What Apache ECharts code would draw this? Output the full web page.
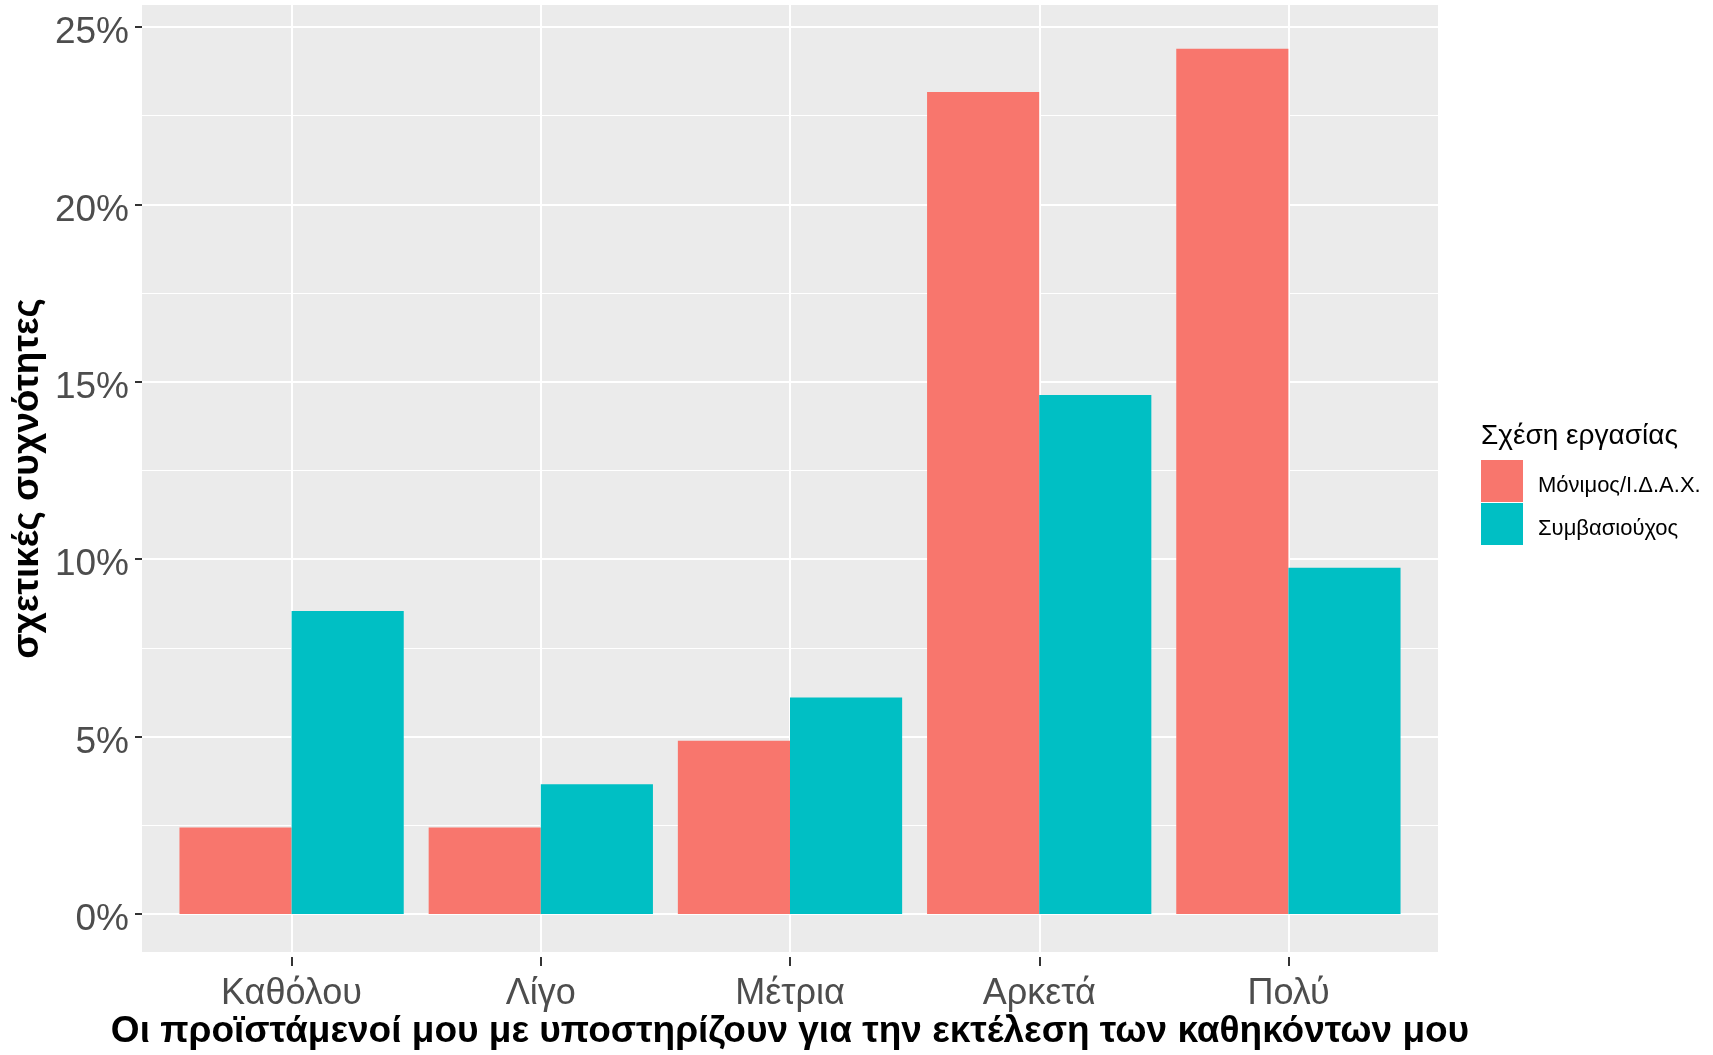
<!DOCTYPE html>
<html>
<head>
<meta charset="utf-8">
<script src="https://cdn.jsdelivr.net/npm/echarts@6/dist/echarts.min.js"></script>
<style>
html,body{margin:0;padding:0;background:#fff;}
#main{width:1713px;height:1055px;}
</style>
</head>
<body>
<div id="main"></div>
<script>
const categories = ['Καθόλου', 'Λίγο', 'Μέτρια', 'Αρκετά', 'Πολύ'];
const seriesNames = ['Μόνιμος/Ι.Δ.Α.Χ.', 'Συμβασιούχος'];
const permanentValues = [2.44, 2.44, 4.88, 23.17, 24.39];
const contractValues = [8.54, 3.66, 6.10, 14.63, 9.76];
const yMin = 0, yMax = 25, yStep = 5;
const xTitle = 'Οι προϊστάμενοί μου με υποστηρίζουν για την εκτέλεση των καθηκόντων μου';
const yTitle = 'σχετικές συχνότητες';
const legendTitle = 'Σχέση εργασίας';

const SANS = "'Liberation Sans',Arial,sans-serif";

const chart = echarts.init(document.getElementById('main'));
const hidden = {axisLine:{show:false}, axisTick:{show:false}, axisLabel:{show:false}, splitLine:{show:false}};

chart.setOption({
  animation: false,
  backgroundColor: '#ffffff',
  title: {
    text: legendTitle, left: 1481, top: 422, padding: 0,
    textStyle: {fontSize: 28, fontWeight: 'normal', color: '#000', fontFamily: SANS}
  },
  legend: {
    data: seriesNames, orient: 'vertical', left: 1481, top: 460, padding: 0,
    itemWidth: 42, itemHeight: 42, itemGap: 1, icon: 'rect', selectedMode: false,
    formatter: function (name) { return '{t|' + name + '}'; },
    textStyle: {fontSize: 22, color: '#000', fontFamily: SANS,
      rich: {t: {fontSize: 22, color: '#000', fontFamily: SANS, padding: [9, 0, 0, 10]}}}
  },
  grid: [
    {left: 142, right: 275, top: 5, bottom: 98, show: true, backgroundColor: '#EBEBEB', borderWidth: 0},
    {left: 142, right: 275, top: 27, bottom: 141},
    {left: 291.5, right: 424.5, top: 5, bottom: 98},
    {left: 167, right: 300, top: 27, bottom: 141}
  ],
  xAxis: [
    Object.assign({gridIndex: 0, type: 'value', min: 0, max: 1,
      name: xTitle, nameLocation: 'middle', nameGap: 61,
      nameTextStyle: {fontSize: 37, fontWeight: 'bold', color: '#000', fontFamily: SANS}}, hidden),
    {gridIndex: 1, type: 'value', show: false},
    {gridIndex: 2, type: 'category', data: categories, boundaryGap: false,
      axisLine: {show: false},
      axisTick: {show: true, length: 9, interval: 0, lineStyle: {color: '#333', width: 2}},
      axisLabel: {interval: 0, margin: 19, fontSize: 36, color: '#4D4D4D', fontFamily: SANS},
      splitLine: {show: true, interval: 0, lineStyle: {color: '#fff', width: 2}}},
    {gridIndex: 3, type: 'category', data: categories, show: false}
  ],
  yAxis: [
    Object.assign({gridIndex: 0, type: 'value', min: 0, max: 1,
      name: yTitle, nameLocation: 'middle', nameGap: 96, nameRotate: 90,
      nameTextStyle: {fontSize: 37, fontWeight: 'bold', color: '#000', fontFamily: SANS}}, hidden),
    {gridIndex: 1, type: 'value', min: yMin, max: yMax, interval: yStep,
      axisLine: {show: false},
      axisTick: {show: true, length: 7, lineStyle: {color: '#333', width: 2}},
      axisLabel: {formatter: function (v) { return '{t|' + v + '%}'; }, margin: 13,
        rich: {t: {fontSize: 37, color: '#4D4D4D', fontFamily: SANS, padding: [12, 0, 0, 0]}}},
      splitLine: {show: true, lineStyle: {color: '#fff', width: 2}},
      minorTick: {show: false, splitNumber: 2},
      minorSplitLine: {show: true, lineStyle: {color: '#fff', width: 1}}},
    {gridIndex: 2, type: 'value', show: false},
    {gridIndex: 3, type: 'value', min: yMin, max: yMax, show: false}
  ],
  series: [
    {type: 'bar', name: seriesNames[0], xAxisIndex: 3, yAxisIndex: 3, data: permanentValues,
      barGap: '0%', barCategoryGap: '10%', itemStyle: {color: '#F8766D'}},
    {type: 'bar', name: seriesNames[1], xAxisIndex: 3, yAxisIndex: 3, data: contractValues,
      barGap: '0%', barCategoryGap: '10%', itemStyle: {color: '#00BFC4'}}
  ]
});
</script>
</body>
</html>
